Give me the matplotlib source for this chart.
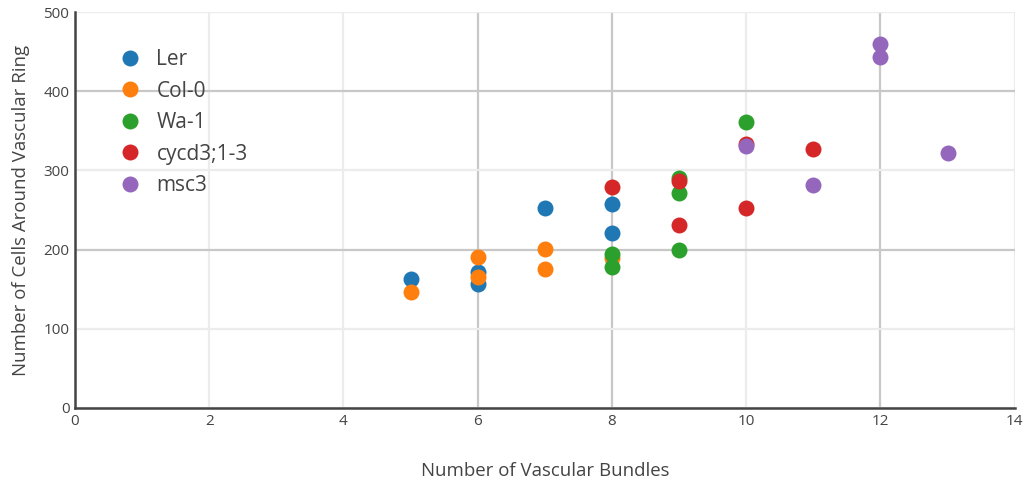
import numpy as np
from matplotlib import pyplot as plt

# vascular bundle counts vs cells around the ring, per genotype
ler_x = [5, 6, 6, 7, 8, 8]
ler_y = [163, 172, 157, 252, 258, 221]
col_x = [5, 6, 6, 7, 7, 8]
col_y = [146, 191, 166, 201, 176, 190]
wa_x = [8, 8, 9, 9, 9, 10]
wa_y = [195, 178, 291, 272, 199, 361]
cyc_x = [8, 9, 9, 10, 10, 11]
cyc_y = [279, 287, 231, 334, 252, 327]
msc_x = [10, 11, 12, 12, 13]
msc_y = [331, 282, 460, 443, 322]

series = [("Ler", ler_x, ler_y, "#1f77b4"),
          ("Col-0", col_x, col_y, "#ff7f0e"),
          ("Wa-1", wa_x, wa_y, "#2ca02c"),
          ("cycd3;1-3", cyc_x, cyc_y, "#d62728"),
          ("msc3", msc_x, msc_y, "#9467bd")]

plt.rcParams['font.family'] = ['Open Sans', 'DejaVu Sans']

fig = plt.figure(figsize=(10.27, 4.83), dpi=100)
ax = fig.add_axes([0.073, 0.1553, 0.915, 0.8197])

for name, x, y, c in series:
    ax.plot(x, y, 'o', color=c, markersize=11.5, markeredgewidth=0, label=name, zorder=3)

ax.set_xlim(0, 14)
ax.set_ylim(0, 500)
ax.set_xticks(np.arange(0, 15, 2))
ax.set_yticks(np.arange(0, 501, 100))

# grid lines render in two shades
ax.grid(True, zorder=0)
dark = '#c8c8c8'
light = '#ececec'
for v, gl in zip(ax.get_xticks(), ax.get_xgridlines()):
    gl.set_color(dark if v in (6, 8, 12) else light)
    gl.set_linewidth(1.6)
for v, gl in zip(ax.get_yticks(), ax.get_ygridlines()):
    gl.set_color(dark if v in (200, 400) else light)
    gl.set_linewidth(1.6)
ax.set_axisbelow(True)

for s in ['top', 'right']:
    ax.spines[s].set_visible(False)
for s in ['left', 'bottom']:
    ax.spines[s].set_color('#444444')
    ax.spines[s].set_linewidth(1.8)

ax.tick_params(length=0, labelsize=11, colors='#444444', pad=4)
ax.set_xlabel('Number of Vascular Bundles', fontsize=13.4, color='#444444', labelpad=24)
ax.set_ylabel('Number of Cells Around Vascular Ring', fontsize=13.4, color='#444444', labelpad=10)

leg = ax.legend(loc='upper left', bbox_to_anchor=(0.028, 0.927), frameon=False,
                fontsize=15, labelspacing=0.5, handletextpad=0.25, borderaxespad=0)
for t in leg.get_texts():
    t.set_color('#444444')

plt.savefig('out.png')
